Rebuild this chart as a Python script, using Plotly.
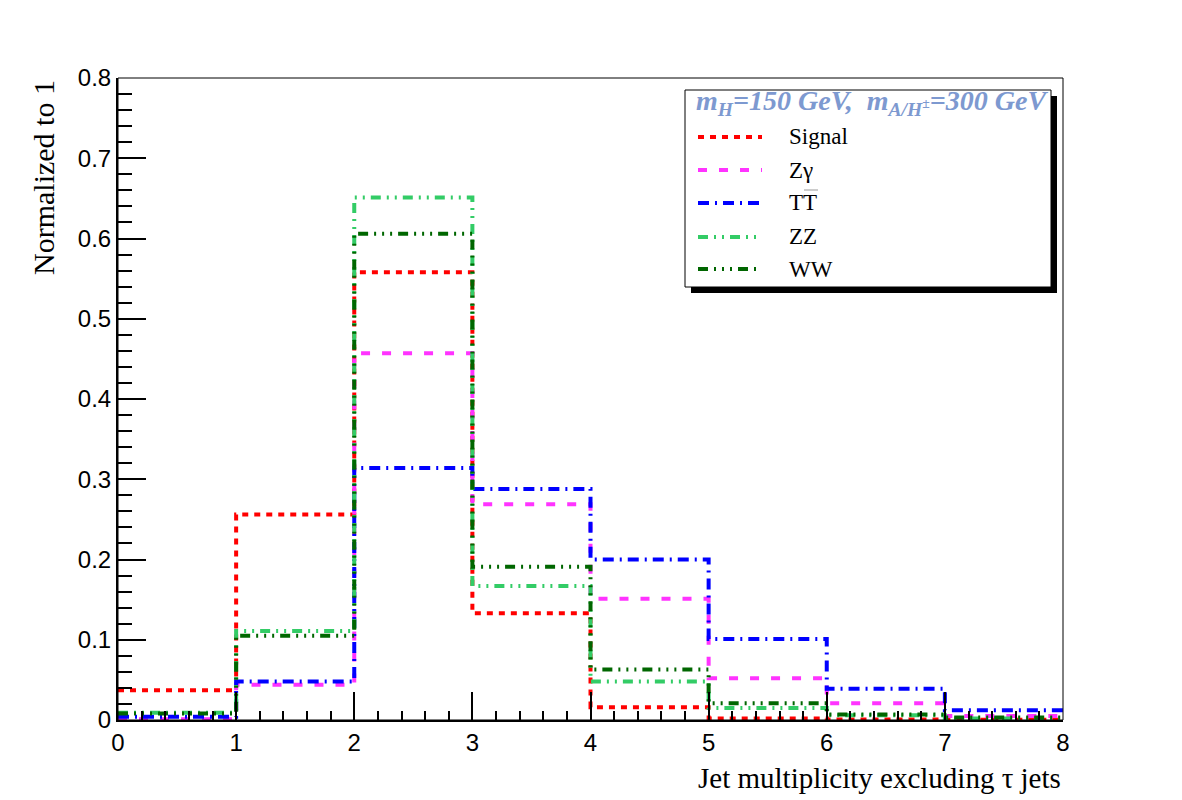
import plotly.graph_objects as go

# ---- data ----
edges = [0, 1, 2, 3, 4, 5, 6, 7, 8]
series_names = ["Signal", "Z\u03b3", "TT", "ZZ", "WW"]
signal = [0.037, 0.256, 0.558, 0.133, 0.016, 0.002, 0.0005, 0.0003]
zgamma = [0.001, 0.044, 0.457, 0.269, 0.151, 0.052, 0.021, 0.005]
tt = [0.004, 0.048, 0.314, 0.288, 0.200, 0.101, 0.039, 0.012]
zz = [0.009, 0.111, 0.651, 0.167, 0.048, 0.015, 0.006, 0.002]
ww = [0.008, 0.105, 0.606, 0.191, 0.063, 0.021, 0.007, 0.003]
x_ticks = [0, 1, 2, 3, 4, 5, 6, 7, 8]
y_ticks = [0, 0.1, 0.2, 0.3, 0.4, 0.5, 0.6, 0.7, 0.8]

colors = ["#FF0000", "#FF33FF", "#0000FF", "#33CC66", "#006600"]
dashes = ["6px,6px", "9px,12px", "11px,6px,2px,6px", "10px,6px,2px,6px,2px,6px",
          "10px,6px,2px,6px,2px,6px,2px,6px"]
values = [signal, zgamma, tt, zz, ww]

W, H = 1182, 800
L, R, T, B = 118, 1063, 78, 720


def px(x):
    return (x - L) / (R - L)


def py(y):
    return (B - y) / (B - T)


fig = go.Figure()
for name, vals, col, dsh in zip(series_names, values, colors, dashes):
    fig.add_trace(go.Scatter(
        x=edges, y=vals + [vals[-1]], mode="lines", line_shape="hv",
        line=dict(color=col, width=4, dash=dsh), name=name, showlegend=False,
        hoverinfo="skip"))

serif = "Liberation Serif"
sans = "Liberation Sans"

shapes = []
annotations = []

# frame top/right
shapes.append(dict(type="rect", xref="paper", yref="paper", x0=0, x1=1, y0=0, y1=1,
                   line=dict(color="black", width=1), layer="above"))

# legend box with shadow
lx0, ly0, lx1, ly1 = 685, 90, 1051, 287
sh = 6
shapes.append(dict(type="rect", xref="paper", yref="paper",
                   x0=px(lx0 + sh), x1=px(lx1 + sh), y0=py(ly1 + sh), y1=py(ly0 + sh),
                   fillcolor="black", line=dict(width=0), layer="above"))
shapes.append(dict(type="rect", xref="paper", yref="paper",
                   x0=px(lx0), x1=px(lx1), y0=py(ly1), y1=py(ly0),
                   fillcolor="white", line=dict(color="black", width=1), layer="above"))

annotations.append(dict(
    xref="paper", yref="paper", x=px(694), y=py(103), xanchor="left", yanchor="middle",
    text="<b><i>m<sub>H</sub>=150 GeV,  m<sub>A/H<sup>\u00b1</sup></sub>=300 GeV</i></b>",
    showarrow=False, font=dict(family=serif, size=28, color="#7D99D0")))

rows = [137, 170, 203, 237, 269]
labels = ["Signal", "Z\u03b3", "TT", "ZZ", "WW"]
for ry, lab, col, dsh in zip(rows, labels, colors, dashes):
    shapes.append(dict(type="line", xref="paper", yref="paper",
                       x0=px(698), x1=px(762), y0=py(ry), y1=py(ry),
                       line=dict(color=col, width=4, dash=dsh), layer="above"))
    annotations.append(dict(xref="paper", yref="paper", x=px(787), y=py(ry),
                            xanchor="left", yanchor="middle", text=lab, showarrow=False,
                            font=dict(family=serif, size=23, color="black")))
# overline on second T of TT
shapes.append(dict(type="line", xref="paper", yref="paper",
                   x0=px(804), x1=px(818), y0=py(190), y1=py(190),
                   line=dict(color="#999999", width=1), layer="above"))

# axis titles
annotations.append(dict(xref="paper", yref="paper", x=px(43), y=py(178),
                        xanchor="center", yanchor="middle", textangle=-90,
                        text="Normalized to 1", showarrow=False,
                        font=dict(family=serif, size=30, color="black")))
annotations.append(dict(xref="paper", yref="paper", x=1, y=py(778),
                        xanchor="right", yanchor="middle",
                        text="Jet multiplicity excluding \u03c4 jets", showarrow=False,
                        font=dict(family=serif, size=29, color="black")))

fig.update_layout(
    width=W, height=H,
    margin=dict(l=L, r=W - R, t=T, b=H - B),
    paper_bgcolor="white", plot_bgcolor="white",
    shapes=shapes, annotations=annotations, showlegend=False,
    xaxis=dict(range=[0, 8], tickvals=x_ticks, ticks="inside", ticklen=28, tickwidth=1.5,
               tickcolor="black", minor=dict(dtick=0.2, ticks="inside", ticklen=9,
                                             tickwidth=1.5, tickcolor="black"),
               showgrid=False, zeroline=False, showline=True, linewidth=2, linecolor="black",
               tickfont=dict(family=sans, size=24, color="black")),
    yaxis=dict(range=[0, 0.8], tickvals=y_ticks, ticktext=[f"{v:g}" for v in y_ticks],
               ticks="inside", ticklen=28, tickwidth=1.5,
               tickcolor="black", minor=dict(dtick=0.02, ticks="inside", ticklen=14,
                                             tickwidth=1.5, tickcolor="black"),
               showgrid=False, zeroline=False, showline=True, linewidth=2, linecolor="black",
               tickfont=dict(family=sans, size=24, color="black")),
)

fig.write_html("out.html")
